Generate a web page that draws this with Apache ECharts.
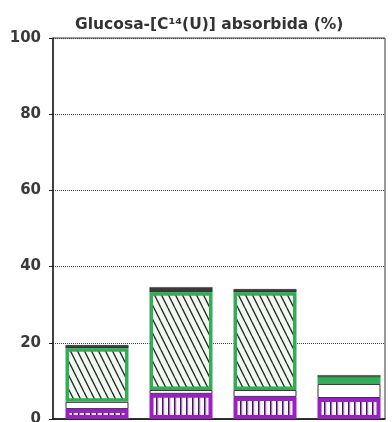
<!DOCTYPE html>
<html><head><meta charset="utf-8">
<script src="https://cdn.jsdelivr.net/npm/echarts@6/dist/echarts.min.js"></script>
<style>html,body{margin:0;padding:0;background:#fff}#c{width:392px;height:422px}</style>
</head><body><div id="c"></div>
<script>
// Data (segment heights, stacked bottom -> top)
const categories = ['1', '2', '3', '4'];
const purpleVals = [2.6, 6.6, 5.8, 5.5];
const whiteVals  = [1.9, 1.0, 1.8, 3.7];
const greenVals  = [14.1, 25.7, 25.7, 1.8];
const darkVals   = [0.8, 1.3, 0.8, 0.5];
const yTickLabels = ['0', '20', '40', '60', '80', '100'];
const titleText = 'Glucosa-[C¹⁴(U)] absorbida (%)';

function hatchPattern() {
  const w = 7, h = 14;
  const c = document.createElement('canvas');
  c.width = w; c.height = h;
  const g = c.getContext('2d');
  g.fillStyle = '#f1f8f0';
  g.fillRect(0, 0, w, h);
  g.strokeStyle = '#262626';
  g.lineWidth = 1.3;
  for (const dx of [-w, 0, w]) {
    g.beginPath();
    g.moveTo(dx, 0);
    g.lineTo(dx + w, h);
    g.stroke();
  }
  return c;
}
function stripePattern() {
  const w = 6, h = 10;
  const c = document.createElement('canvas');
  c.width = w; c.height = h;
  const g = c.getContext('2d');
  g.fillStyle = '#fbf5fd';
  g.fillRect(0, 0, w, h);
  g.fillStyle = '#3a1f48';
  g.fillRect(0, 0, 1.5, h);
  g.fillStyle = 'rgba(160,40,200,0.35)';
  g.fillRect(1.5, 0, 1, h);
  return c;
}

const chart = echarts.init(document.getElementById('c'), null, {renderer: 'canvas'});
const gridTop = 38, gridBottom = 3;
chart.setOption({
  animation: false,
  title: {
    text: titleText,
    left: 70, top: 12,
    textStyle: {fontFamily: 'DejaVu Sans', fontSize: 15.5, fontWeight: 'bold', color: '#333'}
  },
  grid: [
    {left: 53, right: 7, top: gridTop, bottom: gridBottom, outerBoundsMode: 'none', containLabel: false,
     show: true, borderColor: '#333', borderWidth: 1, backgroundColor: 'transparent'},
    {left: 55, right: 1, top: gridTop, bottom: gridBottom, outerBoundsMode: 'none', containLabel: false}
  ],
  xAxis: [
    {gridIndex: 0, type: 'category', data: categories,
     axisLine: {show: true, lineStyle: {color: '#111', width: 1.5}},
     axisTick: {show: false}, axisLabel: {show: false}},
    {gridIndex: 1, type: 'category', data: categories, show: false}
  ],
  yAxis: [
    {gridIndex: 0, type: 'value', min: 0, max: 100, interval: 20,
     axisLine: {show: true, lineStyle: {color: '#222', width: 1.5}},
     axisTick: {show: true, length: 4, lineStyle: {color: '#222'}},
     axisLabel: {margin: 12, fontFamily: 'DejaVu Sans', fontSize: 15, fontWeight: 'bold', color: '#3a3a3a',
       formatter: (v) => yTickLabels[Math.round(v / 20)]},
     splitLine: {show: true, lineStyle: {type: 'dotted', color: '#444', width: 1}}},
    {gridIndex: 1, type: 'value', min: 0, max: 100, show: false, splitLine: {show: false}}
  ],
  series: [
    {name: 'purple', type: 'bar', stack: 's', xAxisIndex: 1, yAxisIndex: 1, barWidth: 63, data: purpleVals,
     itemStyle: {color: {image: stripePattern(), repeat: 'repeat'}, borderColor: '#9a1fc6', borderWidth: 4}},
    {name: 'white', type: 'bar', stack: 's', xAxisIndex: 1, yAxisIndex: 1, barWidth: 63, data: whiteVals,
     itemStyle: {color: '#ffffff', borderColor: '#333', borderWidth: 1}},
    {name: 'green', type: 'bar', stack: 's', xAxisIndex: 1, yAxisIndex: 1, barWidth: 63, data: greenVals,
     itemStyle: {color: {image: hatchPattern(), repeat: 'repeat'}, borderColor: '#33ad55', borderWidth: 3.5}},
    {name: 'dark', type: 'bar', stack: 's', xAxisIndex: 1, yAxisIndex: 1, barWidth: 63, data: darkVals,
     itemStyle: {color: '#3b3b3b', borderColor: '#2a2a2a', borderWidth: 0.5}}
  ]
});
</script></body></html>
